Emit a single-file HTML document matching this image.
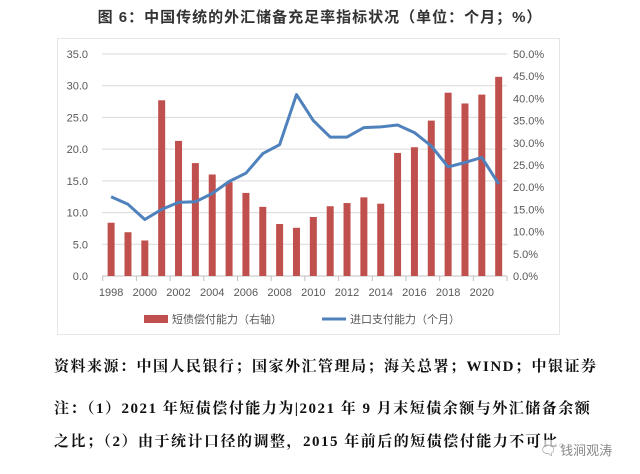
<!DOCTYPE html>
<html><head><meta charset="utf-8"><style>
body{margin:0;width:640px;height:474px;background:#fff;overflow:hidden;font-family:"Liberation Serif","Noto Serif CJK SC",serif;}
.t{position:absolute;white-space:nowrap;color:#111;}
</style></head><body>
<div class="t" style="left:0;width:640px;text-align:center;top:6px;font-size:15px;letter-spacing:1px;font-weight:bold;color:#333;font-family:'Liberation Sans','Noto Sans CJK SC',sans-serif;">图 6：中国传统的外汇储备充足率指标状况（单位：个月；%）</div>
<svg width="640" height="474" style="position:absolute;left:0;top:0" font-family="Liberation Sans, Noto Sans CJK SC, sans-serif">
<rect x="57.5" y="38.5" width="502" height="296" fill="none" stroke="#e6e6e6"/>
<g id="g"></g>
</svg>
<div class="t" style="left:54px;top:355px;font-size:15px;letter-spacing:1.5px;font-weight:bold;">资料来源：中国人民银行；国家外汇管理局；海关总署；WIND；中银证券</div>
<div class="t" style="left:54px;top:397px;font-size:15px;letter-spacing:1.5px;font-weight:bold;">注：（1）2021 年短债偿付能力为|2021 年 9 月末短债余额与外汇储备余额</div>
<div class="t" style="left:54px;top:430px;font-size:15px;letter-spacing:1.5px;font-weight:bold;">之比；（2）由于统计口径的调整，2015 年前后的短债偿付能力不可比。</div>
<div class="t" style="left:540px;top:440px;font-size:13px;color:#888;font-family:'Liberation Sans','Noto Sans CJK SC',sans-serif;background:rgba(255,255,255,0.7)">🗨 钱涧观涛</div>
<script>
var g=document.getElementById('g'),s='';
function Y(v){return 276-v*6.343;}
for(var i=0;i<=7;i++){var y=Y(i*5);
s+='<line x1="102" x2="507" y1="'+y+'" y2="'+y+'" stroke="'+(i?'#d9d9d9':'#bfbfbf')+'"/>';
s+='<text x="88" y="'+(y+4)+'" font-size="11" fill="#595959" text-anchor="end">'+(i*5).toFixed(1)+'</text>';}
for(var i=0;i<=10;i++){var y=Y(i*3.5);s+='<text x="513" y="'+(y+4)+'" font-size="11" fill="#595959">'+(i*5).toFixed(1)+'%</text>';}
var w=16.85,x0=102.7;
for(var i=0;i<=12;i++){var x=x0+i*2*w;s+='<line x1="'+x+'" x2="'+x+'" y1="276" y2="281" stroke="#bfbfbf"/>';
if(i<12)s+='<text x="'+(x+w/2)+'" y="296" font-size="11" fill="#595959" text-anchor="middle">'+(1998+2*i)+'</text>';}
var b=[8.4,6.9,5.6,27.7,21.3,17.8,16.0,14.8,13.1,10.9,8.2,7.6,9.3,11.0,11.5,12.4,11.4,19.4,20.3,24.5,28.9,27.2,28.6,31.4];
var l=[12.5,11.3,8.9,10.5,11.6,11.7,13.0,14.9,16.2,19.3,20.7,28.6,24.5,21.9,21.9,23.4,23.5,23.8,22.6,20.5,17.2,17.9,18.7,14.5];
var p='';
for(var i=0;i<24;i++){var c=x0+w*(i+0.5);s+='<rect x="'+(c-3.5)+'" y="'+Y(b[i])+'" width="7" height="'+(b[i]*6.343)+'" fill="#c0504d"/>';p+=(i?'L':'M')+c.toFixed(1)+','+Y(l[i]).toFixed(1);}
s+='<path d="'+p+'" fill="none" stroke="#4f81bd" stroke-width="3" stroke-linejoin="round"/>';
s+='<rect x="144" y="315" width="24" height="8" fill="#c0504d"/><text x="172" y="323" font-size="11" fill="#595959">短债偿付能力（右轴）</text>';
s+='<line x1="322" x2="346" y1="319" y2="319" stroke="#4f81bd" stroke-width="3"/><text x="350" y="323" font-size="11" fill="#595959">进口支付能力（个月）</text>';
g.innerHTML=s;
</script>
</body></html>
